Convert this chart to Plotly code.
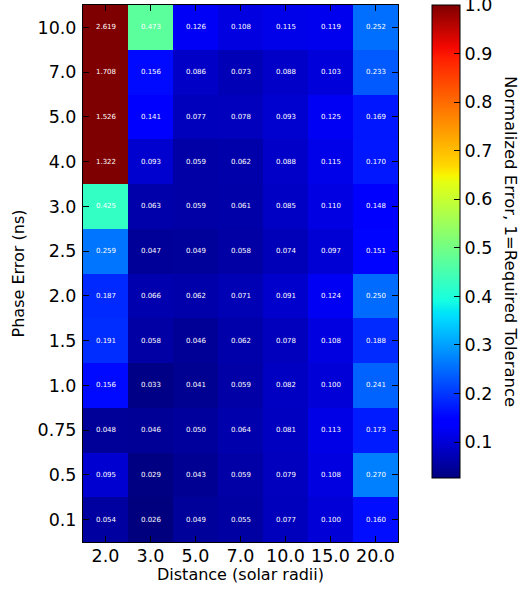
import plotly.graph_objects as go

distances = ["2.0", "3.0", "5.0", "7.0", "10.0", "15.0", "20.0"]
phase_errors = ["10.0", "7.0", "5.0", "4.0", "3.0", "2.5", "2.0", "1.5", "1.0", "0.75", "0.5", "0.1"]

col_2 = [2.619, 1.708, 1.526, 1.322, 0.425, 0.259, 0.187, 0.191, 0.156, 0.048, 0.095, 0.054]
col_3 = [0.473, 0.156, 0.141, 0.093, 0.063, 0.047, 0.066, 0.058, 0.033, 0.046, 0.029, 0.026]
col_5 = [0.126, 0.086, 0.077, 0.059, 0.059, 0.049, 0.062, 0.046, 0.041, 0.050, 0.043, 0.049]
col_7 = [0.108, 0.073, 0.078, 0.062, 0.061, 0.058, 0.071, 0.062, 0.059, 0.064, 0.059, 0.055]
col_10 = [0.115, 0.088, 0.093, 0.088, 0.085, 0.074, 0.091, 0.078, 0.082, 0.081, 0.079, 0.077]
col_15 = [0.119, 0.103, 0.125, 0.115, 0.110, 0.097, 0.124, 0.108, 0.100, 0.113, 0.108, 0.100]
col_20 = [0.252, 0.233, 0.169, 0.170, 0.148, 0.151, 0.250, 0.188, 0.241, 0.173, 0.270, 0.160]

cbar_ticks = [0.1, 0.2, 0.3, 0.4, 0.5, 0.6, 0.7, 0.8, 0.9, 1.0]
cbar_labels = ["0.1", "0.2", "0.3", "0.4", "0.5", "0.6", "0.7", "0.8", "0.9", "1.0"]

cols = [col_2, col_3, col_5, col_7, col_10, col_15, col_20]
z = [[c[i] for c in cols] for i in range(len(phase_errors))]
text = [[f"{v:.3f}" for v in row] for row in z]

jet = [
    [0.0, "#00007f"], [0.11, "#0000ff"], [0.125, "#0000ff"], [0.34, "#00dcff"],
    [0.35, "#00e5f7"], [0.375, "#16ffe1"], [0.5, "#7dff7a"], [0.625, "#e4ff13"],
    [0.64, "#f8f500"], [0.66, "#ffd800"], [0.89, "#ff1d00"], [0.91, "#f40800"],
    [1.0, "#7f0000"],
]

FONT = "DejaVu Sans"
L, R, T, B = 83, 398, 5, 542
PW, PH = R - L, B - T

fig = go.Figure(go.Heatmap(
    x=distances, y=phase_errors, z=z,
    text=text, texttemplate="%{text}",
    textfont=dict(size=7, color="white", family=FONT),
    colorscale=jet, zmin=0.026, zmax=1.0,
    colorbar=dict(
        title=dict(text="", side="right", font=dict(size=1)),
        x=(432 - L) / PW, xanchor="left", xref="paper",
        y=1, yanchor="top", len=473 / PH, lenmode="fraction",
        thickness=28, thicknessmode="pixels",
        outlinecolor="black", outlinewidth=1,
        ticks="inside", ticklen=6, tickcolor="black",
        tickvals=cbar_ticks, ticktext=cbar_labels,
        ticklabeloverflow="allow",
        tickfont=dict(size=17.5, color="black", family=FONT),
        xpad=0, ypad=0,
    ),
))

fig.add_annotation(
    text="Normalized Error, 1=Required Tolerance",
    xref="paper", yref="paper", x=(511 - L) / PW, y=(B - 241) / PH,
    xanchor="center", yanchor="middle",
    textangle=90, showarrow=False,
    font=dict(size=16.5, color="black", family=FONT),
)

fig.add_annotation(
    text="Distance (solar radii)",
    xref="paper", yref="paper", x=0.5, y=(B - 574) / PH,
    xanchor="center", yanchor="middle", showarrow=False,
    font=dict(size=16, color="black", family=FONT),
)

axis_common = dict(
    showline=True, linecolor="black", linewidth=1, mirror="ticks",
    ticks="inside", ticklen=6, tickcolor="black",
    tickfont=dict(size=17.5, color="black", family=FONT),
    showgrid=False, zeroline=False, type="category",
)

fig.update_layout(
    width=523, height=593,
    margin=dict(l=L, r=523 - R, t=T, b=593 - B, autoexpand=False),
    paper_bgcolor="white", plot_bgcolor="white",
    xaxis=dict(axis_common, ticklabelstandoff=-2),
    yaxis=dict(axis_common, autorange="reversed", ticklabelstandoff=2,
               title=dict(text="Phase Error (ns)", standoff=8,
                          font=dict(size=16, color="black", family=FONT))),
)

fig.write_html("out.html", config={"displayModeBar": False},
               post_script="document.body.style.margin='0';")
